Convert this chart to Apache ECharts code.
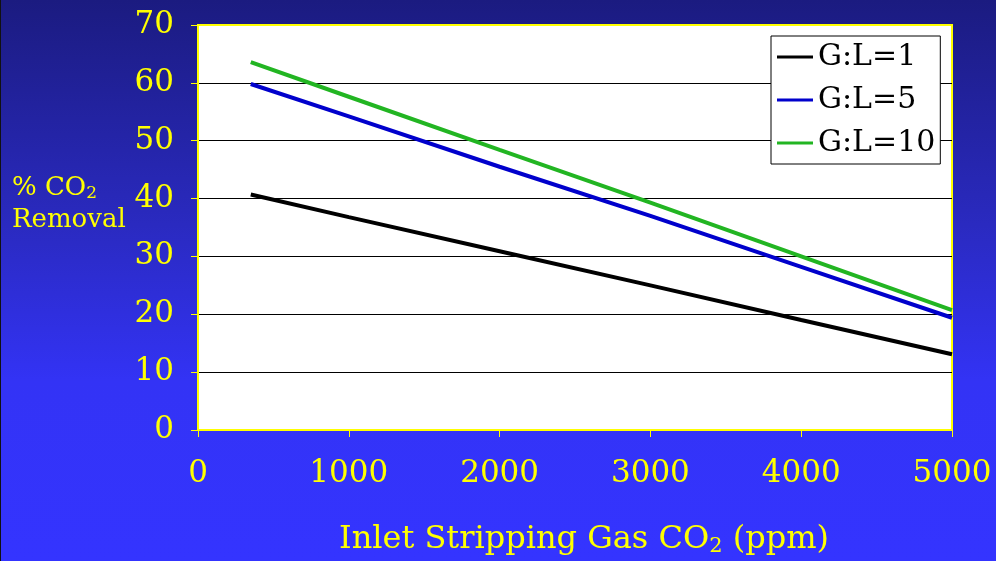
<!DOCTYPE html>
<html>
<head>
<meta charset="utf-8">
<script src="https://cdn.jsdelivr.net/npm/echarts@6/dist/echarts.min.js"></script>
<style>
html,body{margin:0;padding:0;}
#chart{width:996px;height:561px;background:linear-gradient(to bottom,#1b1b80 0%,#2a2ac0 40%,#3333f5 68%,#3434ff 100%);border-left:1px solid #111;box-sizing:border-box;}
</style>
</head>
<body>
<div id="chart"></div>
<script>
const xValues = [350, 1000, 2000, 3000, 4000, 5000];
const seriesNames = ['G:L=1', 'G:L=5', 'G:L=10'];
const gl1 = [40.7, 36.8, 30.9, 25.0, 19.0, 13.1];
const gl5 = [59.8, 54.2, 45.5, 37.0, 28.2, 19.4];
const gl10 = [63.6, 57.6, 48.4, 39.3, 30.0, 20.7];
const xTicks = [0, 1000, 2000, 3000, 4000, 5000];
const yTicks = [0, 10, 20, 30, 40, 50, 60, 70];

const FONT = 'DejaVu Serif';
const YEL = '#ffff00';
const colors = ['#000000', '#0000cc', '#22b522'];
const allData = [gl1, gl5, gl10];

const chart = echarts.init(document.getElementById('chart'), null, {renderer: 'canvas'});
chart.setOption({
  animation: false,
  backgroundColor: 'transparent',
  grid: {
    left: 197, right: 44, top: 25, bottom: 131,
    show: true, backgroundColor: '#ffffff', borderColor: YEL, borderWidth: 2
  },
  legend: {
    orient: 'vertical', left: 770, top: 36,
    padding: [6, 5, 6, 6], itemGap: 13,
    backgroundColor: '#ffffff', borderColor: '#000', borderWidth: 1,
    icon: 'rect', itemWidth: 36, itemHeight: 3,
    textStyle: {fontFamily: FONT, fontSize: 30, color: '#000'},
    data: seriesNames
  },
  xAxis: {
    type: 'value', min: xTicks[0], max: xTicks[xTicks.length - 1], interval: 1000,
    axisLine: {show: true, lineStyle: {color: YEL, width: 2}},
    axisTick: {show: true, length: 7, lineStyle: {color: YEL, width: 1}},
    axisLabel: {color: YEL, fontFamily: FONT, fontSize: 31, margin: 28, formatter: v => String(v)},
    splitLine: {show: false}
  },
  yAxis: {
    type: 'value', min: yTicks[0], max: yTicks[yTicks.length - 1], interval: 10,
    axisLine: {show: true, lineStyle: {color: YEL, width: 2}},
    axisTick: {show: true, length: 7, lineStyle: {color: YEL, width: 1}},
    axisLabel: {color: YEL, fontFamily: FONT, fontSize: 31, margin: 24, formatter: v => String(v)},
    splitLine: {show: true, showMinLine: false, showMaxLine: false, lineStyle: {color: '#000', width: 1}}
  },
  graphic: [
    {
      type: 'text', left: 11, top: 172, z: 10,
      style: {
        text: '% CO{s|2}\nRemoval', fill: YEL,
        font: '26px "DejaVu Serif"', lineHeight: 32,
        rich: {s: {fontSize: 17, fontFamily: FONT, fill: YEL, padding: [12, 0, 0, 0]}}
      }
    },
    {
      type: 'text', x: 583, y: 522, z: 10,
      style: {
        text: 'Inlet Stripping Gas CO{s|2} (ppm)', fill: YEL, align: 'center',
        font: '32px "DejaVu Serif"',
        rich: {s: {fontSize: 21, fontFamily: FONT, fill: YEL, padding: [14, 0, 0, 0]}}
      }
    }
  ],
  series: allData.map((d, i) => ({
    name: seriesNames[i], type: 'line', showSymbol: false, symbol: 'none',
    lineStyle: {color: colors[i], width: 4}, itemStyle: {color: colors[i]},
    data: xValues.map((x, j) => [x, d[j]])
  }))
});
</script>
</body>
</html>
